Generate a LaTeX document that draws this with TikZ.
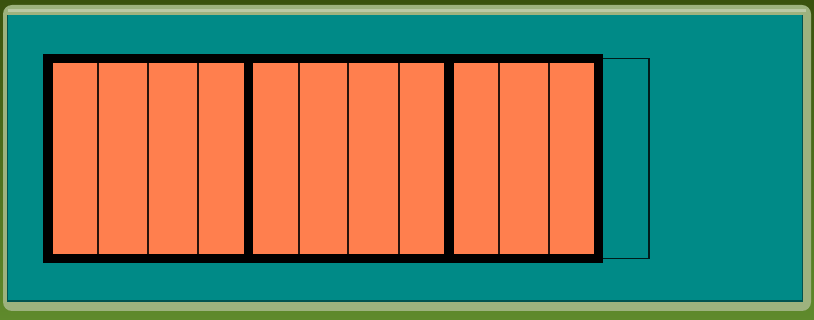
\documentclass[tikz,border=0pt]{standalone}
\begin{document}
\begin{tikzpicture}[x=1pt,y=-1pt,
  bevel/.style={fill=bevelgreen, rounded corners=9pt},
  panel/.style={fill=tealbg},
  cellfill/.style={fill=coral},
  thinline/.style={draw=black!85!coral, line width=1.4pt},
  thickline/.style={draw=black, line width=9.5pt},
  emptybox/.style={draw=black!80!tealbg, line width=1.4pt}]
\definecolor{tealbg}{HTML}{008A87}
\definecolor{coral}{HTML}{FF7F4E}
\definecolor{bevelgreen}{HTML}{9DB27E}
\definecolor{darkolive}{HTML}{3A520E}
\definecolor{lowgreen}{HTML}{5F8A2C}
\useasboundingbox (0,0) rectangle (814,320);
% background
\shade[top color=darkolive, bottom color=lowgreen] (0,0) rectangle (814,320);
% bevel frame
\fill[bevel] (3,5) rectangle (811,311);
\fill[white!30!bevelgreen] (8,9) rectangle (806,12);
% teal panel
\fill[black!40!tealbg] (7,15) rectangle (803,302);
\fill[panel] (8,15) rectangle (802,300);
% empty box
\draw[emptybox] (598.5,58.5) rectangle (649,258.5);
% cells
\fill[cellfill] (53,63) rectangle (594,254);
\foreach \x in {98,148,198,299,348,399,499,549}
  \draw[thinline] (\x,63) -- (\x,254);
% thick frame and group dividers
\draw[thickline] (48,58.5) rectangle (598.5,258.5);
\draw[thickline] (248.5,58.5) -- (248.5,258.5);
\draw[thickline] (449,58.5) -- (449,258.5);
\end{tikzpicture}
\end{document}
